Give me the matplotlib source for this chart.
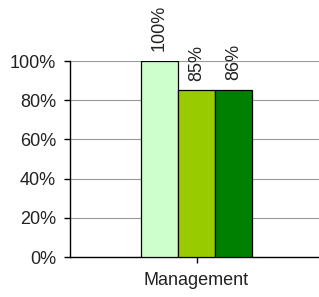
import matplotlib
matplotlib.use("Agg")
import matplotlib.pyplot as plt
from matplotlib.ticker import PercentFormatter

# 数据
category = ["Management"]
series_values = [1.00, 0.85, 0.853]
value_labels = ["100%", "85%", "86%"]
bar_colors = ["#CCFFCC", "#99CC00", "#008000"]

plt.rcParams["font.family"] = ["Liberation Sans", "DejaVu Sans"]

fig = plt.figure(figsize=(3.19, 2.97), dpi=100)
ax = fig.add_axes([70 / 319, 40 / 297, 253 / 319, 196 / 297])

width = 0.147
offsets = [-1, 0, 1]
for off, v, lab, c in zip(offsets, series_values, value_labels, bar_colors):
    bars = ax.bar(0 + off * width, v, width, color=c, edgecolor="black", linewidth=0.9, zorder=3)
    ax.annotate(lab, (bars[0].get_x() + width / 2, v), xytext=(0, 7), textcoords="offset points",
                rotation=90, ha="center", va="bottom", fontsize=13, color="#222222",
                annotation_clip=False)

ax.set_xlim(-0.5, 0.5)
ax.set_ylim(0, 1)
ax.set_yticks([0, 0.2, 0.4, 0.6, 0.8, 1.0])
ax.yaxis.set_major_formatter(PercentFormatter(1.0, decimals=0))
ax.set_xticks([0])
ax.set_xticklabels(category)
ax.tick_params(axis="both", labelsize=13, length=4, width=1, direction="out",
               colors="black", labelcolor="#222222")
ax.tick_params(axis="x", pad=7)
ax.tick_params(axis="y", pad=6)
ax.grid(axis="y", color="#999999", linewidth=0.8, zorder=0)
for s in ["top", "right"]:
    ax.spines[s].set_visible(False)
ax.spines["left"].set_linewidth(1)
ax.spines["bottom"].set_linewidth(1)

fig.savefig("out.png", dpi=100)
